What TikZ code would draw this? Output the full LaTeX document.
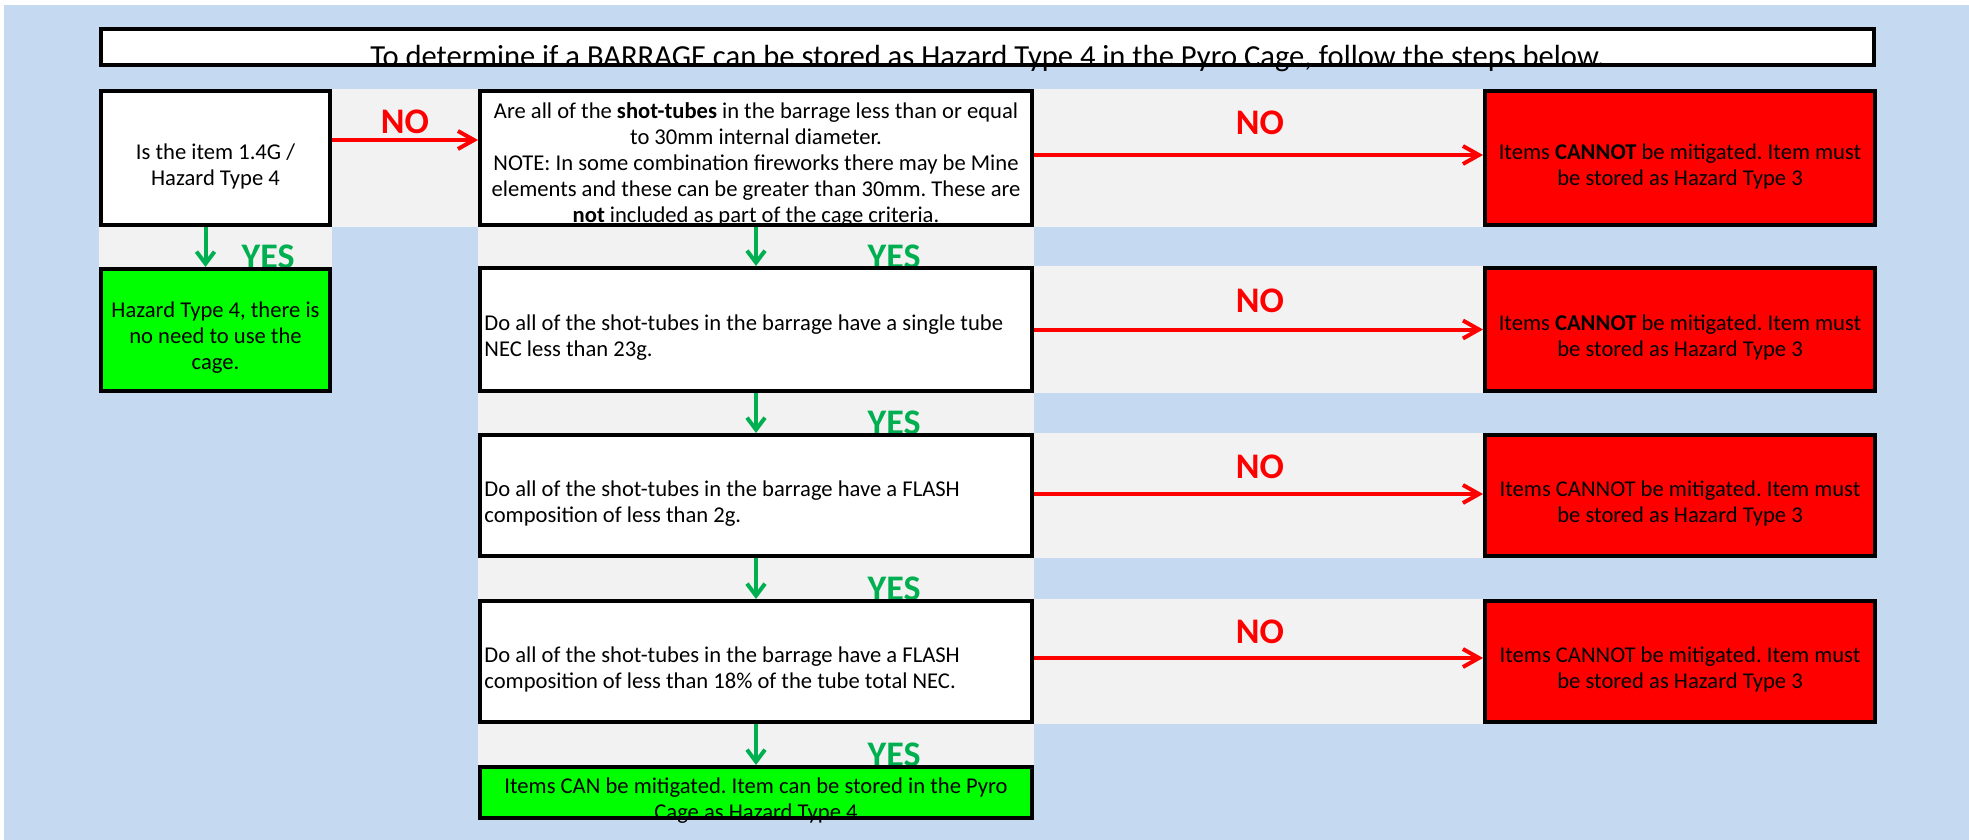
\documentclass[tikz,border=0pt]{standalone}
\usepackage{fontspec}
\setmainfont{Carlito}
\frenchspacing
\usetikzlibrary{arrows.meta}
\definecolor{sheetblue}{HTML}{C5D9F1}
\definecolor{cellgray}{HTML}{F2F2F2}
\definecolor{stopred}{HTML}{FF0000}
\definecolor{gogreen}{HTML}{00FF00}
\definecolor{yesgreen}{HTML}{00B050}
\tikzset{
  box/.style={draw=black, line width=2pt, inner sep=0pt},
  qbox/.style={box, fill=white},
  redbox/.style={box, fill=stopred},
  greenbox/.style={box, fill=gogreen},
  txt/.style={inner sep=0pt, align=center, font=\fontsize{11.3}{13}\selectfont},
  ltxt/.style={txt, align=left, anchor=west},
  nolbl/.style={inner sep=0pt, text=stopred, font=\fontsize{18}{18}\selectfont\bfseries},
  yeslbl/.style={inner sep=0pt, anchor=base, text=yesgreen, font=\fontsize{18}{18}\selectfont\bfseries},
  noline/.style={draw=stopred, line width=2pt, -{Straight Barb[length=8pt,width=9pt]}},
  yesline/.style={draw=yesgreen, line width=2pt, -{Straight Barb[length=6pt,width=9pt]}},
}
\begin{document}
\begin{tikzpicture}[x=0.5pt, y=-0.5pt]
      \useasboundingbox (0,0) rectangle (1969,840);
      \fill[white] (0,0) rectangle (1969,840);
      \fill[sheetblue] (4,5) rectangle (1969,840);
      % grey cells
      \fill[cellgray] (478,89) rectangle (1034,765);
      \fill[cellgray] (332,89) rectangle (478,227);
      \fill[cellgray] (99,227) rectangle (332,267);
      \fill[cellgray] (1034,89) rectangle (1483,227);
      \fill[cellgray] (1034,266) rectangle (1483,393);
      \fill[cellgray] (1034,433) rectangle (1483,558);
      \fill[cellgray] (1034,599) rectangle (1483,724);
      % labels
      \node[yeslbl] (y0) at (268,268) {YES};
      \node[yeslbl] (y1) at (894,268) {YES};
      \node[yeslbl] (y2) at (894,434) {YES};
      \node[yeslbl] (y3) at (894,600) {YES};
      \node[yeslbl] (y4) at (894,766) {YES};
      \node[nolbl] (n0) at (405,121.5) {NO};
      \node[nolbl] (n1) at (1260,122.5) {NO};
      \node[nolbl] (n2) at (1260,301) {NO};
      \node[nolbl] (n3) at (1260,466.5) {NO};
      \node[nolbl] (n4) at (1260,632) {NO};
      % boxes
      \node[qbox, minimum width=886.5pt, minimum height=18pt] (title) at (987.5,47) {};
      \node[qbox, minimum width=114.5pt, minimum height=67pt] (qA) at (215.5,158) {};
      \node[greenbox, minimum width=114.5pt, minimum height=61pt] (gA) at (215.5,330) {};
      \node[qbox, minimum width=276pt, minimum height=67pt] (qB) at (756,158) {};
      \node[qbox, minimum width=276pt, minimum height=61.5pt] (qC) at (756,329.5) {};
      \node[qbox, minimum width=276pt, minimum height=60.5pt] (qD) at (756,495.5) {};
      \node[qbox, minimum width=276pt, minimum height=60.5pt] (qE) at (756,661.5) {};
      \node[greenbox, minimum width=276pt, minimum height=25.5pt] (fin) at (756,792.5) {};
      \node[redbox, minimum width=195pt, minimum height=67pt] (r1) at (1680,158) {};
      \node[redbox, minimum width=195pt, minimum height=61.5pt] (r2) at (1680,329.5) {};
      \node[redbox, minimum width=195pt, minimum height=60.5pt] (r3) at (1680,495.5) {};
      \node[redbox, minimum width=195pt, minimum height=60.5pt] (r4) at (1680,661.5) {};
      % texts
      \node[txt, anchor=base, font=\fontsize{15.3}{17}\selectfont] (titletxt) at ([yshift=-10pt]title.center)
        {To determine if a BARRAGE can be stored as Hazard Type 4 in the Pyro Cage, follow the steps below.};
      \node[txt] (qAtxt) at ([yshift=-4pt]qA.center) {Is the item 1.4G /\\Hazard Type 4};
      \node[txt] (gAtxt) at ([yshift=-4pt]gA.center) {Hazard Type 4, there is\\no need to use the\\cage.};
      \node[txt] (qBtxt) at ([yshift=-3.5pt]qB.center)
        {Are all of the \textbf{shot-tubes} in the barrage less than or equal\\to 30mm internal diameter.\\NOTE: In some combination fireworks there may be Mine\\elements and these can be greater than 30mm. These are\\\textbf{not} included as part of the cage criteria.};
      \node[ltxt] (qCtxt) at ([xshift=3pt,yshift=-4pt]qC.west) {Do all of the shot-tubes in the barrage have a single tube\\NEC less than 23g.};
      \node[ltxt] (qDtxt) at ([xshift=3pt,yshift=-4pt]qD.west) {Do all of the shot-tubes in the barrage have a FLASH\\composition of less than 2g.};
      \node[ltxt] (qEtxt) at ([xshift=3pt,yshift=-4pt]qE.west) {Do all of the shot-tubes in the barrage have a FLASH\\composition of less than 18\% of the tube total NEC.};
      \node[txt] (fintxt) at ([yshift=-4pt]fin.center) {Items CAN be mitigated. Item can be stored in the Pyro\\Cage as Hazard Type 4};
      \node[txt] (r1txt) at ([yshift=-4pt]r1.center) {Items \textbf{CANNOT} be mitigated. Item must\\be stored as Hazard Type 3};
      \node[txt] (r2txt) at ([yshift=-4pt]r2.center) {Items \textbf{CANNOT} be mitigated. Item must\\be stored as Hazard Type 3};
      \node[txt] (r3txt) at ([yshift=-4pt]r3.center) {Items CANNOT be mitigated. Item must\\be stored as Hazard Type 3};
      \node[txt] (r4txt) at ([yshift=-4pt]r4.center) {Items CANNOT be mitigated. Item must\\be stored as Hazard Type 3};
      % arrows
      \draw[noline] ([yshift=9pt]qA.east) -- ([yshift=9pt]qB.west);
      \draw[noline] ([yshift=1.5pt]qB.east) -- ([yshift=1.5pt]r1.west);
      \draw[noline] (qC.east) -- (r2.west);
      \draw[noline] ([yshift=0.75pt]qD.east) -- ([yshift=0.75pt]r3.west);
      \draw[noline] ([yshift=1.75pt]qE.east) -- ([yshift=1.75pt]r4.west);
      \draw[yesline] ([xshift=-5pt]qA.south) -- ([xshift=-5pt]gA.north);
      \draw[yesline] (qB) -- (qC);
      \draw[yesline] (qC) -- (qD);
      \draw[yesline] (qD) -- (qE);
      \draw[yesline] (qE) -- (fin);
    \end{tikzpicture}
\end{document}
